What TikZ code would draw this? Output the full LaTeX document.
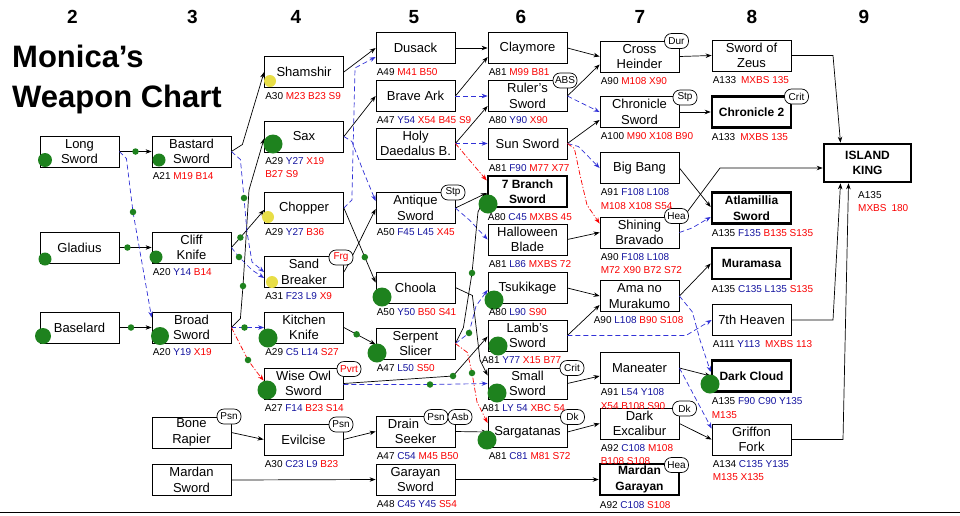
\documentclass[tikz,border=0pt]{standalone}
\usepackage{fontspec}
\setmainfont{Liberation Sans}
\usetikzlibrary{arrows.meta,calc}
\definecolor{sblue}{RGB}{20,20,160}
\definecolor{sred}{RGB}{250,0,0}
\definecolor{lblue}{RGB}{50,50,215}
\definecolor{gdot}{RGB}{30,130,30}
\definecolor{ydot}{RGB}{232,222,70}
\newcommand\stB[1]{\textcolor{sblue}{#1}}
\newcommand\stR[1]{\textcolor{sred}{#1}}
\newcommand\wstat[4]{\node[stat] (#1) at ([xshift=#3pt,yshift=-12pt]#2.south west) {#4};}
\newcommand\wstatb[3]{\node[stat] (#1) at ([yshift=-13.5pt]#2.base west) {#3};}
\begin{document}
\begin{tikzpicture}[x=1pt,y=-1pt,
  wbox/.style={draw, line width=0.8pt, minimum width=79pt, minimum height=31pt, inner sep=1pt, align=center, font=\fontsize{13}{15.5}\selectfont},
  fbox/.style={wbox, line width=2.6pt, font=\bfseries\fontsize{12}{15.5}\selectfont},
  stat/.style={anchor=base west, inner sep=0pt, font=\fontsize{10}{12}\selectfont},
  tag/.style={draw, fill=white, line width=0.7pt, rounded corners=7pt, minimum width=24pt, minimum height=15pt, inner sep=0.5pt, font=\fontsize{10}{10}\selectfont},
  arr/.style={-{Stealth[length=6pt,width=4.5pt]}, line width=0.7pt},
  bd/.style={arr, draw=lblue, dash pattern=on 5pt off 3pt},
  rd/.style={arr, draw=sred, dash pattern=on 5pt off 2pt on 1.2pt off 2pt},
  sdot/.style={circle, fill=gdot, inner sep=0pt, minimum size=6.5pt},
  bdot/.style={circle, fill=gdot, inner sep=0pt, minimum size=19pt},
  ydt/.style={circle, fill=ydot, inner sep=0pt, minimum size=12pt},
  hd/.style={font=\bfseries\fontsize{19}{19}\selectfont},
]
\fill[white] (0,0) rectangle (960,515);
\useasboundingbox (0,0) rectangle (960,515);
\draw[line width=1pt] (0,512) -- (960,512);

% headers and title
\node[hd] (h2) at (72.5,17) {2};
\node[hd] (h3) at (192.5,17) {3};
\node[hd] (h4) at (296,17) {4};
\node[hd] (h5) at (414,17) {5};
\node[hd] (h6) at (521,17) {6};
\node[hd] (h7) at (640,17) {7};
\node[hd] (h8) at (752,17) {8};
\node[hd] (h9) at (864,17) {9};
\node[anchor=base west, inner sep=0pt, font=\bfseries\fontsize{31}{31}\selectfont] (title1) at (12,67) {Monica's};
\node[anchor=base west, inner sep=0pt, font=\bfseries\fontsize{31}{31}\selectfont] (title2) at (12,107) {Weapon Chart};

% boxes
\node[wbox] (ls) at (79.5,151.5) {Long\\Sword};
\node[wbox] (glad) at (79.5,247.5) {Gladius};
\node[wbox] (base) at (79.5,327.5) {Baselard};
\node[wbox] (bast) at (191.5,151.5) {Bastard\\Sword};
\node[wbox] (cliff) at (191.5,247.5) {Cliff\\Knife};
\node[wbox] (broad) at (191.5,327.5) {Broad\\Sword};
\node[wbox] (bone) at (191.5,432.5) {Bone\\Rapier};
\node[wbox] (mard) at (191.5,480) {Mardan\\Sword};
\node[wbox] (sham) at (304,72) {Shamshir};
\node[wbox] (sax) at (304,136.5) {Sax};
\node[wbox] (chop) at (304,208) {Chopper};
\node[wbox] (sand) at (304,272) {Sand\\Breaker};
\node[wbox] (kitch) at (304,327.5) {Kitchen\\Knife};
\node[wbox] (owl) at (303.5,383.5) {Wise Owl\\Sword};
\node[wbox] (evil) at (303.5,439.5) {Evilcise};
\node[wbox] (dus) at (415.5,48) {Dusack};
\node[wbox] (brave) at (415.5,96) {Brave Ark};
\node[wbox] (holy) at (415.5,143.5) {Holy\\Daedalus B.};
\node[wbox] (antq) at (415.5,208) {Antique\\Sword};
\node[wbox] (choola) at (415.5,287.5) {Choola};
\node[wbox] (serp) at (415.5,343.5) {Serpent\\Slicer};
\node[wbox] (drain) at (415.5,431.5) {Drain\rule{24pt}{0pt}\\Seeker};
\node[wbox] (garay) at (415.5,479.5) {Garayan\\Sword};
\node[wbox] (clay) at (527.5,48) {Claymore};
\node[wbox] (ruler) at (527.5,96) {Ruler's\\Sword};
\node[wbox] (sun) at (527.5,143.5) {Sun Sword};
\node[fbox] (seven) at (527.5,191.5) {7 Branch\\Sword};
\node[wbox] (hallo) at (527.5,239.5) {Halloween\\Blade};
\node[wbox] (tsuki) at (527.5,288) {Tsukikage};
\node[wbox] (lamb) at (527.5,335.5) {Lamb's\\Sword};
\node[wbox] (small) at (527.5,383.5) {Small\\Sword};
\node[wbox] (sarg) at (527.5,432) {Sargatanas};
\node[wbox] (cross) at (639.5,56.5) {Cross\\Heinder};
\node[wbox] (chron) at (639.5,112) {Chronicle\\Sword};
\node[wbox] (bigb) at (639.5,168) {Big Bang};
\node[wbox] (shin) at (639.5,232.5) {Shining\\Bravado};
\node[wbox] (ama) at (639.5,296) {Ama no\\Murakumo};
\node[wbox] (mane) at (639.5,368) {Maneater};
\node[wbox] (dexc) at (639.5,423.5) {Dark\\Excalibur};
\node[fbox] (mgar) at (639.5,479.5) {Mardan\\Garayan};
\node[wbox] (zeus) at (751.5,55.5) {Sword of\\Zeus};
\node[fbox] (chr2) at (751.5,112) {Chronicle 2};
\node[fbox] (atla) at (751.5,208) {Atlamillia\\Sword};
\node[fbox] (mura) at (751.5,263.5) {Muramasa};
\node[wbox] (heaven) at (751.5,320) {7th Heaven};
\node[fbox] (dcloud) at (751.5,376) {Dark Cloud};
\node[wbox] (griff) at (751.5,439.5) {Griffon\\Fork};
\node[fbox, minimum width=87pt, minimum height=38pt] (isl) at (867.5,163) {ISLAND\\KING};

% connectors col 2 -> 3
\draw[arr] (ls.east) -- node[sdot] (d1) {} (bast.west);
\draw[arr] (glad.east) -- node[sdot,pos=.25] (d2) {} (cliff.west);
\draw[arr] (base.east) -- node[sdot,pos=.36] (d3) {} (broad.west);
\draw[bd] (ls.east) -- ++(7,7) -- (133,212) node[sdot] (d4) {} -- ([yshift=10pt]broad.west);
\draw[bd] (broad.east) -- node[sdot,pos=.4] (d9) {} (kitch.west);
% col 3 -> 4
\draw[arr] (bast.east) -- ++(11,-7) -- (sham.west);
\draw[arr] (broad.east) -- ++(9,-9) -- (243,286) node[sdot] (d5) {} -- (249,190) -- ([yshift=-2pt]sax.west);
\draw[arr] (cliff.east) -- ++(9,-10) node[sdot] (d6) {} -- ([yshift=-2pt]chop.west);
\draw[bd] (cliff.east) -- (239,257) node[sdot] (d7) {} -- (252,270) -- ([yshift=-6pt]sand.west);
\draw[bd] (bast.east) -- ++(9,8) -- (244,198) node[sdot] (d8) {} -- (247,232) -- (252,262) -- (sand.west);
\draw[rd] (broad.east) -- (248,360) node[sdot] (d10) {} -- (256,371) -- ([yshift=3pt]owl.west);
\draw[arr] (bone.east) -- (evil.west);
\draw[arr] (mard.east) -- (garay.west);
% col 4 -> 5
\draw[arr] (sham.east) -- (dus.west);
\draw[arr] (sax.east) -- (brave.west);
\draw[bd] (chop.east) -- ++(8,-8) -- (355,68) -- ([yshift=-9pt]dus.west);
\draw[bd] (sax.east) -- ++(8,5) -- (362,168) -- ([yshift=7pt]antq.west);
\draw[arr] (chop.east) -- node[sdot,pos=.66] (d11) {} ([yshift=5pt]choola.west);
\draw[arr] (sand.east) -- ++(4,-7) -- ([yshift=-1pt]antq.west);
\draw[arr] (kitch.east) -- node[sdot,pos=.4] (d12) {} ([yshift=-1pt]serp.west);
\draw[arr] (owl.east) -- (453,376) node[sdot] (d13) {} -- ([yshift=-1pt]lamb.west);
\draw[bd] ([yshift=-1pt]owl.east) -- (430,384.5) node[sdot] (d14) {} -- (small.west);
\draw[arr] (evil.east) -- (drain.west);
% col 5 -> 6
\draw[arr] (dus.east) -- (clay.west);
\draw[arr] (brave.east) -- ([yshift=-9pt]clay.west);
\draw[bd] (brave.east) -- (ruler.west);
\draw[arr] (holy.east) -- ([yshift=-10pt]ruler.west);
\draw[bd] (holy.east) -- (sun.west);
\draw[rd] (holy.east) -- ([yshift=11pt]seven.west);
\draw[arr] (antq.east) -- ([yshift=-1.5pt]seven.west);
\draw[bd] (antq.east) -- ++(14,12) -- (hallo.west);
\draw[arr] (choola.east) -- ++(17,8) -- (480,360) -- ([yshift=8pt]small.west);
\draw[arr] (serp.east) -- ++(8,-16) -- (472,273) node[sdot] (d15) {} -- (478,212) -- ([yshift=-1.5pt]seven.west);
\draw[bd] (serp.east) -- (469,333) node[sdot] (d16) {} -- (476,306) -- ([yshift=-2pt]tsuki.west);
\draw[rd] (serp.east) -- ++(12,9) -- (472,373) node[sdot] (d17) {} -- (477,402) -- ([yshift=9pt]sarg.west);
\draw[arr] (drain.east) -- (sarg.west);
\draw[arr] (garay.east) -- (mgar.west);
% col 6 -> 7
\draw[arr] (clay.east) -- (cross.west);
\draw[arr] (ruler.east) -- ([yshift=-8pt]cross.west);
\draw[bd] (ruler.east) -- (chron.west);
\draw[arr] (sun.east) -- ([yshift=-8pt]chron.west);
\draw[bd] (sun.east) -- ++(11,3) -- (bigb.west);
\draw[rd] (sun.east) -- ++(7,5) -- (580,175) -- (587,205) -- ([yshift=9pt]shin.west);
\draw[arr] (hallo.east) -- (shin.west);
\draw[arr] (tsuki.east) -- (ama.west);
\draw[arr] (lamb.east) -- ([yshift=-9pt]ama.west);
\draw[bd] (lamb.east) -- (686,335.5) -- (heaven.west);
\draw[arr] (small.east) -- ([yshift=-8pt]mane.west);
\draw[arr] (sarg.east) -- (dexc.west);
% col 7 -> 8
\draw[arr] (cross.east) -- (zeus.west);
\draw[arr] (chron.east) -- (chr2.west);
\draw[arr] (bigb.east) -- ([yshift=1pt]atla.west);
\draw[arr] ([yshift=10pt]shin.east) -- (720,168) -- ([yshift=-5pt]isl.west);
\draw[bd] (shin.east) -- (692,228) -- ([yshift=-9pt]atla.west);
\draw[arr] (ama.east) -- (mura.west);
\draw[bd] (ama.east) -- ++(13,16) -- (700,340) -- ([yshift=4pt]dcloud.west);
\draw[arr] (mane.east) -- (dcloud.west);
\draw[bd] (mane.east) -- ([yshift=11pt]griff.west);
\draw[arr] (dexc.east) -- (griff.west);
% col 8 -> 9
\draw[arr] (zeus.east) -- (833,55.5) -- ([xshift=-27pt]isl.north);
\draw[arr] (heaven.east) -- (833,320) -- ([xshift=-27pt]isl.south);
\draw[arr] (griff.east) -- (843,439.5) -- ([xshift=-19pt]isl.south);

% big dots
\node[bdot, minimum size=14pt] (g1) at (45,160) {};
\node[bdot, minimum size=13pt] (g2) at (159,160) {};
\node[bdot, minimum size=13pt] (g3) at (45,259) {};
\node[bdot, minimum size=13pt] (g4) at (156,257) {};
\node[bdot, minimum size=16pt] (g5) at (43,336) {};
\node[bdot, minimum size=18pt] (g6) at (160,336) {};
\node[ydt] (y1) at (270,81) {};
\node[bdot] (g7) at (273,144) {};
\node[ydt] (y2) at (268,217) {};
\node[ydt] (y3) at (272,282) {};
\node[bdot] (g8) at (268,338) {};
\node[bdot] (g9) at (267,390) {};
\node[bdot] (g10) at (382,297) {};
\node[bdot] (g11) at (377,353) {};
\node[bdot] (g12) at (488,204) {};
\node[bdot] (g13) at (494,300) {};
\node[bdot] (g14) at (498,346) {};
\node[bdot] (g15) at (497,393) {};
\node[bdot] (g16) at (487,440) {};
\node[bdot] (g17) at (710,384) {};

% tags
\node[tag] (t1) at (676.5,41) {Dur};
\node[tag] (t2) at (565,80.5) {ABS};
\node[tag] (t3) at (685,97.5) {Stp};
\node[tag] (t4) at (796.5,96.5) {Crit};
\node[tag] (t5) at (453,192.5) {Stp};
\node[tag, text=sred] (t6) at (341,257.5) {Frg};
\node[tag] (t7) at (676.5,216) {Hea};
\node[tag] (t8) at (572,368) {Crit};
\node[tag] (t9) at (572.5,417) {Dk};
\node[tag] (t10) at (436,417) {Psn};
\node[tag] (t11) at (460,417) {Asb};
\node[tag] (t12) at (341,424.5) {Psn};
\node[tag] (t13) at (229,416.5) {Psn};
\node[tag, text=sred] (t14) at (349,369) {Pvrt};
\node[tag] (t15) at (684.5,408.5) {Dk};
\node[tag] (t16) at (676.5,465) {Hea};

% stats
\wstat{sbast}{bast}{1}{A21 \stR{M19 B14}}
\wstat{scliff}{cliff}{1}{A20 \stB{Y14} \stR{B14}}
\wstat{sbroad}{broad}{1}{A20 \stB{Y19} \stR{X19}}
\wstat{ssham}{sham}{1}{A30 \stR{M23 B23 S9}}
\wstat{ssax}{sax}{1}{A29 \stB{Y27} \stR{X19}}
\wstatb{ssax2}{ssax}{\stR{B27 S9}}
\wstat{schop}{chop}{1}{A29 \stB{Y27} \stR{B36}}
\wstat{ssand}{sand}{1}{A31 \stB{F23 L9} \stR{X9}}
\wstat{skitch}{kitch}{1}{A29 \stB{C5 L14} \stR{S27}}
\wstat{sowl}{owl}{1}{A27 \stB{F14} \stR{B23 S14}}
\wstat{sevil}{evil}{1}{A30 \stB{C23 L9} \stR{B23}}
\wstat{sdus}{dus}{1}{A49 \stR{M41 B50}}
\wstat{sbrave}{brave}{1}{A47 \stB{Y54} \stR{X54 B45 S9}}
\wstat{santq}{antq}{1}{A50 \stB{F45 L45} \stR{X45}}
\wstat{schoola}{choola}{1}{A50 \stB{Y50} \stR{B50 S41}}
\wstat{sserp}{serp}{1}{A47 \stB{L50} \stR{S50}}
\wstat{sdrain}{drain}{1}{A47 \stB{C54} \stR{M45 B50}}
\wstat{sgaray}{garay}{1}{A48 \stB{C45 Y45} \stR{S54}}
\wstat{sclay}{clay}{1}{A81 \stR{M99 B81}}
\wstat{sruler}{ruler}{1}{A80 \stB{Y90} \stR{X90}}
\wstat{ssun}{sun}{1}{A81 \stB{F90} \stR{M77 X77}}
\wstat{sseven}{seven}{1}{A80 \stB{C45} \stR{MXBS 45}}
\wstat{shallo}{hallo}{1}{A81 \stB{L86} \stR{MXBS 72}}
\wstat{stsuki}{tsuki}{1}{A80 \stB{L90} \stR{S90}}
\wstat{slamb}{lamb}{-6}{A81 \stB{Y77} \stR{X15 B77}}
\wstat{ssmall}{small}{-6}{A81 \stB{LY 54} \stR{XBC 54}}
\wstat{ssarg}{sarg}{1}{A81 \stB{C81} \stR{M81 S72}}
\wstat{scross}{cross}{1}{A90 \stR{M108 X90}}
\wstat{schron}{chron}{1}{A100 \stR{M90 X108 B90}}
\wstat{sbigb}{bigb}{1}{A91 \stB{F108 L108}}
\wstatb{sbigb2}{sbigb}{\stR{M108 X108 S54}}
\wstat{sshin}{shin}{1}{A90 \stB{F108 L108}}
\wstatb{sshin2}{sshin}{\stR{M72 X90 B72 S72}}
\wstat{sama}{ama}{-6}{A90 \stB{L108} \stR{B90 S108}}
\wstat{smane}{mane}{1}{A91 \stB{L54 Y108}}
\wstatb{smane2}{smane}{\stR{X54 B108 S90}}
\wstat{sdexc}{dexc}{1}{A92 \stB{C108} \stR{M108}}
\wstatb{sdexc2}{sdexc}{\stR{B108 S108}}
\wstat{smgar}{mgar}{1}{A92 \stB{C108} \stR{S108}}
\wstat{szeus}{zeus}{1}{A133\enspace\stR{MXBS 135}}
\wstat{schr2}{chr2}{1}{A133\enspace\stR{MXBS 135}}
\wstat{satla}{atla}{1}{A135 \stB{F135} \stR{B135 S135}}
\wstat{smura}{mura}{1}{A135 \stB{C135 L135} \stR{S135}}
\wstat{sheaven}{heaven}{1}{A111 \stB{Y113}\enspace\stR{MXBS 113}}
\wstat{sdcloud}{dcloud}{1}{A135 \stB{F90 C90 Y135}}
\wstatb{sdcloud2}{sdcloud}{\stR{M135}}
\wstat{sgriff}{griff}{1}{A134 \stB{C135 Y135}}
\wstatb{sgriff2}{sgriff}{\stR{M135 X135}}
\node[stat] (sisl) at ([xshift=-9.5pt,yshift=-15pt]isl.south) {A135};
\wstatb{sisl2}{sisl}{\stR{MXBS\enspace180}}
\end{tikzpicture}
\end{document}
